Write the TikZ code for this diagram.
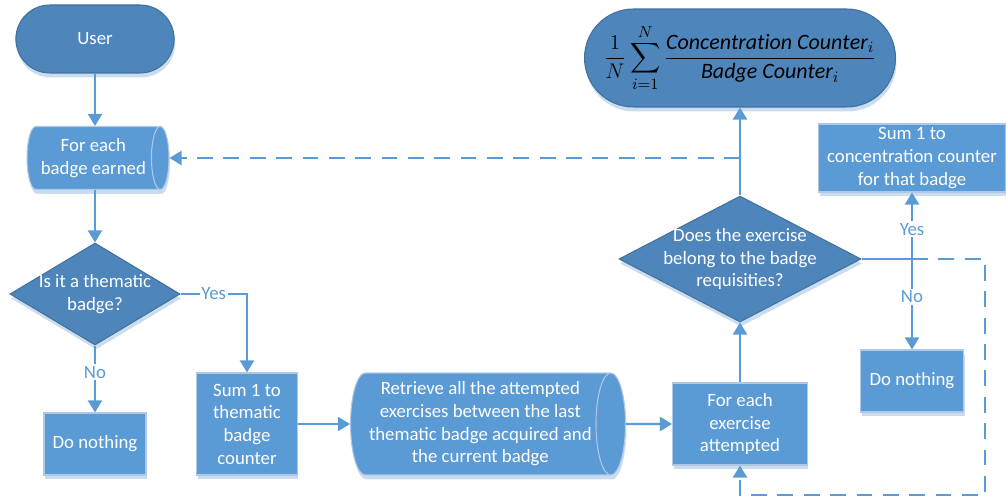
\documentclass[tikz,border=0pt]{standalone}
\usepackage{fontspec}
\setmainfont{Carlito}
\usepackage{amsmath}
\usepackage{xcolor}
\usepackage{tikz}
\usetikzlibrary{shapes.geometric,shapes.misc,arrows.meta,positioning,calc,shadows}

\definecolor{darkblue}{HTML}{4E86BC}
\definecolor{darkedge}{HTML}{41719C}
\definecolor{midblue}{HTML}{5B9BD5}
\definecolor{lightedge}{HTML}{B0C8E4}
\definecolor{shadowblue}{HTML}{CADCEF}

\begin{document}
\begin{tikzpicture}[x=0.02cm,y=-0.02cm,
    font=\fontsize{10.7}{12.9}\selectfont,
    >={Triangle[length=0.24cm,width=0.28cm]},
    line/.style={draw=midblue,line width=1.2pt},
    link/.style={line,->},
    dashlink/.style={line,->,dash pattern=on 9pt off 6pt},
    flat/.style={drop shadow={shadow xshift=0.02cm,shadow yshift=-0.09cm,fill=shadowblue,opacity=1}},
    terminal/.style={flat,rounded rectangle,fill=darkblue,draw=darkedge,line width=0.6pt,text=white,align=center},
    decision/.style={flat,diamond,fill=darkblue,draw=darkedge,line width=0.6pt,inner sep=0pt},
    process/.style={flat,rectangle,fill=midblue,draw=lightedge,line width=0.6pt,text=white,align=center,inner sep=2pt},
    loopdata/.style={flat,cylinder,anchor=shape center,fill=midblue,draw=lightedge,line width=0.6pt,text=white,align=center,inner sep=0pt},
    answer/.style={fill=white,text=midblue,inner sep=1pt}]
  \useasboundingbox (0,0) rectangle (1007,502);
  \node[terminal,minimum width=3.4cm,minimum height=1.36cm] (user) at (95,39) {User};
  \node[loopdata,minimum height=2.84cm,minimum width=1.26cm,aspect=0.45] (badges) at (98,158) {For each\\badge earned};
  \node[decision,minimum width=3.4cm,minimum height=2.04cm,
    label={[text=white,align=center]center:Is it a thematic\\badge?}] (thematic) at (95,294) {};
  \node[process,minimum width=2.04cm,minimum height=1.24cm] (nothingA) at (95,444) {Do nothing};
  \node[process,minimum width=2.02cm,minimum height=2.04cm] (thematicsum) at (247,424) {Sum 1 to\\thematic\\badge\\counter};
  \node[loopdata,minimum height=5.5cm,minimum width=2.04cm,aspect=0.35] (retrieve) at (488,424)
    {Retrieve all the attempted\\exercises between the last\\thematic badge acquired and\\the current badge};
  \node[process,minimum width=2.7cm,minimum height=1.64cm] (exercises) at (740,424) {For each\\exercise\\attempted};
  \node[decision,minimum width=4.84cm,minimum height=2.52cm,
    label={[text=white,align=center]center:Does the exercise\\belong to the badge\\requisities?}] (belongs) at (740,259) {};
  \node[terminal,minimum width=5.76cm,minimum height=1.96cm,text=black,font=\fontsize{12.5}{14}\selectfont] (average) at (740,58)
    {$\displaystyle\frac{1}{N}\sum_{i=1}^{N}\frac{\mathit{Concentration\ Counter}_i}{\mathit{Badge\ Counter}_i}$};
  \node[process,minimum width=3.74cm,minimum height=1.36cm] (concsum) at (912,158) {Sum 1 to\\concentration counter\\for that badge};
  \node[process,minimum width=2.06cm,minimum height=1.24cm] (nothingB) at (912,381) {Do nothing};

  \draw[link] (user.south) -- (user.south |- badges.north);
  \draw[link] (thematic.north |- badges.south) -- (thematic.north);
  \draw[link] (thematic.south) -- node[answer,pos=0.4]{No} (nothingA.north);
  \draw[link] (thematic.east) -| node[answer,pos=0.25]{Yes} (thematicsum.north);
  \draw[link] (thematicsum.east) -- (retrieve.west);
  \draw[link] (retrieve.east) -- (exercises.west);
  \draw[link] (exercises.north) -- (belongs.south);
  \draw[link] (belongs.north) -- (average.south);
  \coordinate (back) at (belongs.north |- badges.east);
  \draw[dashlink] (back) -- (badges.east);
  \coordinate (fork) at (concsum.south |- belongs.east);
  \draw[line] (belongs.east) -- (fork);
  \draw[link] (fork) -- node[answer,pos=0.45]{Yes} (concsum.south);
  \draw[link] (fork) -- node[answer,pos=0.42]{No} (nothingB.north);
  \coordinate (corner) at (985,495);
  \draw[dashlink] (fork) -| (corner) -| (exercises.south);
\end{tikzpicture}
\end{document}
